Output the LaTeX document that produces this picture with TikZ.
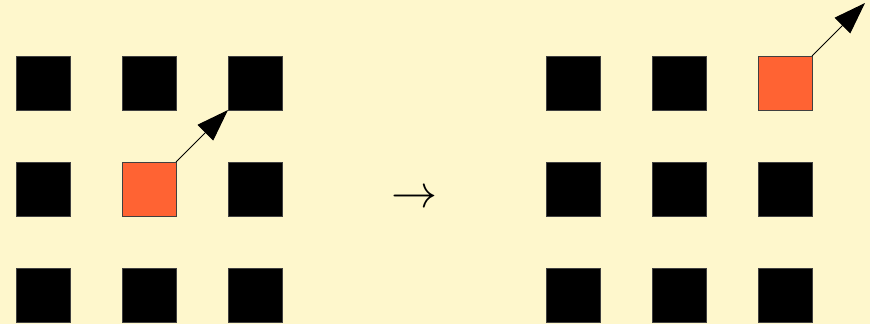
\documentclass[tikz,border=0pt]{standalone}
\usetikzlibrary{arrows.meta}
\definecolor{bgyel}{RGB}{254,247,204}
\definecolor{orng}{RGB}{255,99,51}
\begin{document}
\begin{tikzpicture}[x=1pt,y=-1pt,
  sq/.style={draw=black!75,line width=0.6pt,minimum size=54pt,inner sep=0pt,outer sep=0pt,fill=black},
  osq/.style={sq,fill=orng},
  arr/.style={line width=1pt,-{Triangle[length=32pt,width=22pt]}}]
\fill[bgyel] (0,0) rectangle (870,324);
\useasboundingbox (0,0) rectangle (870,324);
% left grid
\node[sq]  (l11) at (43,83) {};
\node[sq]  (l12) at (149,83) {};
\node[sq]  (l13) at (255,83) {};
\node[sq]  (l21) at (43,189) {};
\node[osq] (l22) at (149,189) {};
\node[sq]  (l23) at (255,189) {};
\node[sq]  (l31) at (43,295) {};
\node[sq]  (l32) at (149,295) {};
\node[sq]  (l33) at (255,295) {};
\draw[arr] (l22.north east) -- (l13.south west);
% middle arrow
\node[scale=4.6,inner sep=0pt] (mid) at (414,199) {$\rightarrow$};
% right grid
\node[sq]  (r11) at (573,83) {};
\node[sq]  (r12) at (679,83) {};
\node[osq] (r13) at (785,83) {};
\node[sq]  (r21) at (573,189) {};
\node[sq]  (r22) at (679,189) {};
\node[sq]  (r23) at (785,189) {};
\node[sq]  (r31) at (573,295) {};
\node[sq]  (r32) at (679,295) {};
\node[sq]  (r33) at (785,295) {};
\coordinate (rt) at (865,3);
\draw[arr] (r13.north east) -- (rt);
\end{tikzpicture}
\end{document}
